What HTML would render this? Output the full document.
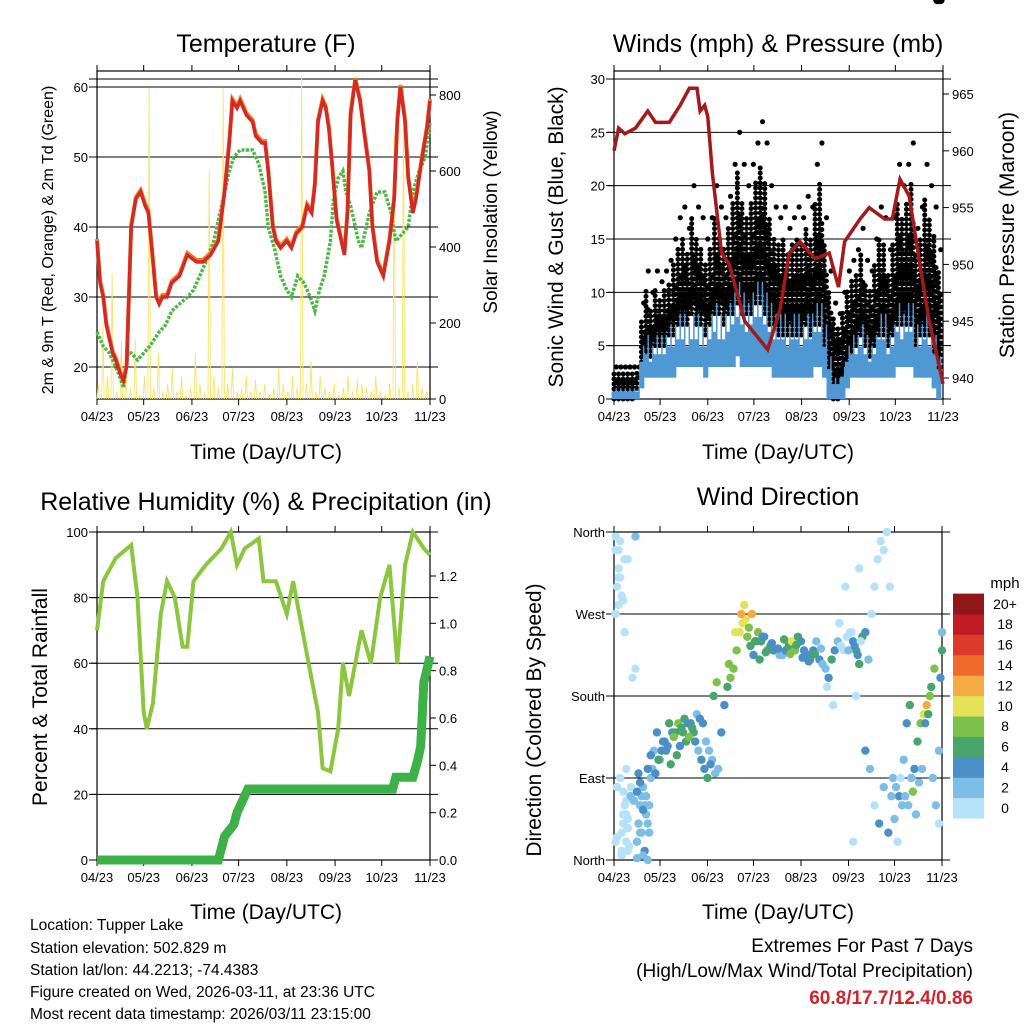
<!DOCTYPE html>
<html><head><meta charset="utf-8"><style>
html,body{margin:0;padding:0;background:#fff}
svg{display:block;font-family:"Liberation Sans",sans-serif}
</style></head><body>
<svg id="c" width="1024" height="1024" viewBox="0 0 1024 1024">
<text x="266" y="52" font-size="25" text-anchor="middle">Temperature (F)</text>
<text x="778" y="52" font-size="25" text-anchor="middle">Winds (mph) &amp; Pressure (mb)</text>
<text x="266" y="510" font-size="25" text-anchor="middle">Relative Humidity (%) &amp; Precipitation (in)</text>
<text x="778" y="505" font-size="25" text-anchor="middle">Wind Direction</text>
<g font-size="21" text-anchor="middle">
<text x="266" y="459">Time (Day/UTC)</text>
<text x="778" y="459">Time (Day/UTC)</text>
<text x="266" y="919">Time (Day/UTC)</text>
<text x="778" y="919">Time (Day/UTC)</text>
</g>
<text transform="translate(53,240) rotate(-90)" font-size="16" text-anchor="middle">2m &amp; 9m T (Red, Orange) &amp; 2m Td (Green)</text>
<text transform="translate(497,212) rotate(-90)" font-size="19" text-anchor="middle">Solar Insolation (Yellow)</text>
<text transform="translate(563,237) rotate(-90)" font-size="21" text-anchor="middle">Sonic Wind &amp; Gust (Blue, Black)</text>
<text transform="translate(1014,235) rotate(-90)" font-size="21" text-anchor="middle">Station Pressure (Maroon)</text>
<text transform="translate(47,697) rotate(-90)" font-size="21" text-anchor="middle">Percent &amp; Total Rainfall</text>
<text transform="translate(541,720) rotate(-90)" font-size="21" text-anchor="middle">Direction (Colored By Speed)</text>
<g font-size="15.5">
<text x="30" y="930">Location: Tupper Lake</text>
<text x="30" y="953">Station elevation: 502.829 m</text>
<text x="30" y="975">Station lat/lon: 44.2213; -74.4383</text>
<text x="30" y="997">Figure created on Wed, 2026-03-11, at 23:36 UTC</text>
<text x="30" y="1019">Most recent data timestamp: 2026/03/11 23:15:00</text>
</g>
<g font-size="19" text-anchor="end">
<text x="973" y="952">Extremes For Past 7 Days</text>
<text x="973" y="977">(High/Low/Max Wind/Total Precipitation)</text>
<text x="973" y="1004" fill="#d0242b" font-weight="bold">60.8/17.7/12.4/0.86</text>
</g>
<text x="1005" y="588" font-size="15" text-anchor="middle">mph</text>
</svg>
<script>
// ---- data ----
const xTickLabels=["04/23","05/23","06/23","07/23","08/23","09/23","10/23","11/23"];
const xTickDays=[0,30,61,91,122,153,183,214];
const tempDays=[0,2,4,6,8,10,12,15,17,19,22,25,28,31,33,36,38,40,42,45,48,53,58,64,68,73,78,82,85,87,90,92,96,100,102,106,108,110,113,115,118,122,125,128,132,135,138,140,142,145,147,149,151,154,157,159,161,163,166,169,172,175,177,180,184,188,191,193,195,198,200,203,205,209,212,214];
const tempVals=[38,32,30,26,24,22,21,19,18,20,40,44,45,43,42,35,30,29,30,30,32,33,36,35,35,36,38,45,52,58,57,58,56,55,53,52,52,48,40,38,37,38,37,39,40,43,42,46,55,58,57,54,49,41,38,36,42,56,61,58,53,48,40,35,33,38,44,55,60,55,47,42,44,50,54,58];
const dewDays=[0,4,8,10,14,17,20,22,26,30,34,40,44,48,53,58,62,66,70,75,78,82,85,88,92,95,100,104,108,110,114,118,122,125,129,133,137,140,143,146,150,152,155,158,160,163,165,168,170,173,175,180,185,189,192,196,200,203,207,211,214];
const dewVals=[25,23,22,21,19,17,22,22,21,22,23,25,26,28,29,30,31,33,35,38,41,45,48,50,51,51,51,49,45,40,37,33,31,30,33,32,30,28,31,33,38,44,47,48,45,43,41,38,37,40,42,45,45,42,38,39,40,45,48,50,55];
const solarPeaks=[40,200,60,330,20,150,80,30,160,10,60,820,30,120,20,40,80,20,60,10,30,120,40,20,600,60,30,820,40,80,20,30,60,20,50,20,40,10,30,80,40,20,60,30,850,40,100,20,60,30,20,40,10,30,60,20,50,40,30,20,60,20,10,40,700,30,820,20,40,100,30,20];
const windGustHi=[3,3,3,3,3,3,9,12,10,12,11,12,13,15,17,18,16,20,18,17,15,17,20,18,17,19,22,25,22,20,22,24,26,24,20,18,17,18,16,17,18,17,19,18,22,24,17,12,9,8,10,12,13,14,16,13,12,15,18,17,14,17,22,20,22,24,16,18,22,20,18,14];
const windGustLo=[0,0,0,0,0,1,3,4,4,5,5,5,6,6,7,7,7,8,7,7,6,7,8,8,7,8,8,9,8,8,8,9,9,8,7,7,6,6,6,6,6,6,7,6,7,7,5,2,0,0,1,3,4,5,6,5,4,5,6,6,5,6,7,7,7,7,5,6,6,6,4,2];
const windMeanHi=[1,1,1,1,1,1,5,6,5,6,6,6,7,7,8,8,7,8,8,7,7,8,9,8,8,9,10,11,10,9,10,11,11,10,9,8,8,8,7,8,8,7,8,8,9,9,7,4,2,2,3,5,6,6,7,6,5,6,8,8,6,7,9,8,9,9,7,7,8,7,6,4];
const windMeanLo=[0,0,0,0,0,0,1,2,2,2,2,2,2,2,3,3,3,3,3,3,2,3,3,3,3,3,3,4,3,3,3,3,3,3,3,2,2,2,2,2,2,2,2,2,3,3,2,0,0,0,0,1,2,2,2,2,2,2,2,2,2,2,3,3,3,3,2,2,2,2,1,0];
const pressDays=[0,3,7,14,22,27,36,43,49,54,56,59,61,64,70,75,85,100,108,114,121,131,140,146,150,160,166,176,181,186,192,199,205,210,214];
const pressVals=[960,962,961.5,962,963.5,962.5,962.5,964,965.5,965.5,963.5,964,963,958,951,950,945,942.5,946,951,952,950.5,951,948,952,954,955,954,954,957.5,956,950,945,942,939.5];
const rhDays=[0,4,12,22,26,30,32,36,41,45,50,55,58,62,70,80,86,90,95,104,107,115,122,126,132,136,142,145,150,155,158,162,170,176,182,188,193,198,203,210,214];
const rhVals=[70,85,92,96,80,45,40,48,75,85,80,65,65,85,90,95,100,90,95,98,85,85,75,85,70,60,45,28,27,40,60,50,70,60,80,90,60,90,100,95,93];
const precipDays=[0,78,80,82,88,90,97,190,192,203,206,208,210,214];
const precipVals=[0,0,0.05,0.1,0.15,0.2,0.3,0.3,0.35,0.35,0.42,0.48,0.75,0.86];
const dirDays=[1,2,3,4,5,6,7,8,9,10,2,4,6,8,11,1,3,5,7,9,12,14,14,15,16,17,18,19,20,21,22,23,24,25,18,20,22,26,28,30,32,34,36,38,40,42,44,46,48,50,52,54,56,58,60,62,64,66,68,70,72,74,76,78,80,82,84,86,88,90,92,94,96,98,100,102,104,106,108,110,112,114,116,118,120,122,124,126,128,130,132,134,136,138,140,142,144,146,148,150,152,154,156,158,160,162,164,166,168,170,172,174,176,178,180,182,184,186,188,190,192,194,196,198,200,202,204,206,208,210,212,213,214,214,212,156,158,160,
1,2,3,5,6,8,9,10,1,3,4,6,7,9,2,5,8,11,13,15,16,17,19,21,23,15,17,19,22,24,27,29,31,33,35,37,39,41,43,45,47,49,51,53,55,57,59,61,63,65,67,75,79,83,85,87,89,91,93,95,97,99,103,107,111,115,119,123,127,131,135,139,143,147,151,153,155,157,159,161,164,167,170,173,176,179,181,183,185,187,189,191,193,195,197,199,201,203,205,207,209,211,213];
const dirDegs=[340,300,320,350,30,50,60,20,10,70,80,90,40,100,80,270,310,290,250,330,200,210,355,20,40,60,70,80,60,50,40,30,90,100,30,10,0,120,140,110,130,120,150,140,140,150,145,155,150,150,140,160,155,150,130,120,110,95,100,140,170,190,200,210,230,250,260,265,255,270,240,250,240,245,230,235,230,230,225,225,230,235,240,230,245,240,230,225,220,230,240,220,215,210,200,220,230,240,235,230,245,250,240,230,215,245,250,220,270,300,330,350,340,360,300,90,80,70,60,70,60,90,100,130,150,160,170,180,90,60,120,200,230,250,40,20,180,320,
20,80,280,5,75,65,45,15,355,340,310,285,330,35,25,10,50,70,65,75,95,85,55,70,60,2,30,5,100,115,95,110,120,130,125,105,135,115,125,140,130,135,145,130,120,110,100,90,105,180,195,215,250,270,280,245,235,225,240,220,245,228,238,232,242,226,236,222,218,226,232,190,170,260,300,230,250,235,225,240,120,100,60,40,80,30,70,45,20,90,110,150,170,75,50,85,100,150,160,190,210];
const dirSpds=[1,1,1,1,1,1,1,1,1,1,1,1,1,1,1,1,1,1,1,1,1,1,3,3,3,3,3,3,3,3,3,3,3,3,3,4,3,3,5,3,5,5,7,5,7,8,7,7,5,5,7,3,5,4,3,3,3,3,3,5,5,7,8,8,9,10,11,10,9,12,7,9,6,5,7,7,5,7,3,3,5,7,10,9,7,5,5,5,6,5,3,5,3,3,5,7,5,3,1,1,1,1,5,7,6,7,5,3,1,1,1,1,1,1,1,3,3,5,3,3,3,3,5,7,9,10,12,9,3,3,3,5,7,3,1,1,1,1,
1,1,1,1,1,1,1,1,1,1,1,1,1,1,1,1,1,3,3,5,5,5,5,3,3,3,3,3,5,5,5,7,5,5,5,7,9,7,5,7,6,8,7,5,3,5,5,7,5,7,8,9,10,12,11,9,7,5,6,7,5,7,5,5,6,9,7,5,5,7,3,1,1,1,1,3,1,5,5,1,5,3,1,5,3,5,3,3,1,1,3,5,7,9,3,3,3,5,7,7,8];
const cbarLabels=["0","2","4","6","8","10","12","14","16","18","20+"];
const cbarColors=["#b5e2f8","#7dbde6","#4a8fc8","#48a56c","#7cc24a","#e5e158","#f6aa44","#f06a2c","#de3a2c","#c01c24","#901619"];

// ---- helpers ----
const svg=document.getElementById('c');const NS="http://www.w3.org/2000/svg";
function mk(tag,attrs,parent){const e=document.createElementNS(NS,tag);for(const k in attrs)e.setAttribute(k,attrs[k]);(parent||svg).appendChild(e);return e;}
function lin(d0,d1,r0,r1){return v=>r0+(v-d0)*(r1-r0)/(d1-d0);}
function axesFrame(x0,x1,y0,y1,name){
  const g=mk('g',{});
  
  
  mk('rect',{x:x0,y:y0,width:x1-x0,height:y1-y0,fill:'none',stroke:'#000','stroke-width':1.2},g);
  const xs=lin(0,214,x0,x1);
  xTickDays.forEach((d,i)=>{const x=xs(d);
    mk('line',{x1:x,x2:x,y1:y1,y2:y1+6,stroke:'#000'},g);
    mk('line',{x1:x,x2:x,y1:y0,y2:y0-6,stroke:'#000'},g);
    const t=mk('text',{x:x,y:y1+22,'font-size':13,'text-anchor':'middle'},g);t.textContent=xTickLabels[i];});
  return g;
}
function yTicks(g,vals,labels,scale,x,side,grid,x0,x1){
  vals.forEach((v,i)=>{const y=scale(v);
    if(grid)mk('line',{x1:x0-8,x2:x1+8,y1:y,y2:y,stroke:'#000','stroke-width':1},g);
    mk('line',{x1:x,x2:x+(side<0?-6:6),y1:y,y2:y,stroke:'#000'},g);
    const t=mk('text',{x:x+(side<0?-9:9),y:y+5,'font-size':13,'text-anchor':side<0?'end':'start'},g);t.textContent=labels[i];});
}
function pathFrom(xa,ya,xs,ys){return xa.map((d,i)=>(i?'L':'M')+xs(d).toFixed(1)+','+ys(ya[i]).toFixed(1)).join('');}

// ---- Panel 1: temperature ----
(function(){
  const x0=97,x1=430,y0=71,y1=399;
  const g=axesFrame(x0,x1,y0,y1,'temperature');
  const xs=lin(0,214,x0,x1),ys=lin(20,60,367,87),ss=lin(0,800,399,95);
  yTicks(g,[20,30,40,50,60],['20','30','40','50','60'],ys,x0,-1,true,x0,x1);
  mk('line',{x1:x0-8,x2:x1+8,y1:79,y2:79,stroke:'#000'},g);
  yTicks(g,[0,200,400,600,800],['0','200','400','600','800'],ss,x1,1,false);
  let d='';solarPeaks.forEach((p,i)=>{const dd=i*214/solarPeaks.length;d+=`M${xs(dd).toFixed(1)},${ss(0)}L${xs(dd+0.8).toFixed(1)},${ss(p).toFixed(1)}L${xs(dd+1.6).toFixed(1)},${ss(0)}`;});
  const sol=mk('path',{d:d,fill:'none',stroke:'#f9e36a','stroke-width':0.9},g);
  
  
  const dp=mk('path',{d:pathFrom(dewDays,dewVals,xs,ys),fill:'none',stroke:'#4db848','stroke-width':3.5,'stroke-dasharray':'3 1.5'},g);
  
  
  const or=mk('path',{d:pathFrom(tempDays,tempVals,xs,v=>ys(v)-2),fill:'none',stroke:'#f07f2a','stroke-width':4},g);
  
  
  const rd=mk('path',{d:pathFrom(tempDays,tempVals,xs,ys),fill:'none',stroke:'#d42a26','stroke-width':3.5},g);
  
  
})();

// ---- Panel 2: winds ----
(function(){
  const x0=614,x1=943,y0=71,y1=399;
  const g=axesFrame(x0,x1,y0,y1,'winds');
  const xs=lin(0,214,x0,x1),ys=lin(0,30,399,79),ps=lin(940,965,378,94);
  yTicks(g,[0,5,10,15,20,25,30],['0','5','10','15','20','25','30'],ys,x0,-1,true,x0,x1);
  yTicks(g,[940,945,950,955,960,965],['940','945','950','955','960','965'],ps,x1,1,false);
  const n=windGustHi.length;
  windGustHi.forEach((v,i)=>{const x=xs(i*214/n);
    const b=mk('line',{x1:x,x2:x,y1:ys(windGustLo[i]),y2:ys(v*0.85),stroke:'#000','stroke-width':5,'stroke-linecap':'round','stroke-dasharray':'0 5'},g);
    
    
    const b2=mk('line',{x1:x+2.2,x2:x+2.2,y1:ys(windGustLo[i]+1),y2:ys(v*0.7),stroke:'#000','stroke-width':5,'stroke-linecap':'round','stroke-dasharray':'0 6'},g);
    
    
    const dt=mk('circle',{cx:xs(i*214/n+1.5),cy:ys(v),r:2.6,fill:'#000'},g);
    
    
  });
  windMeanHi.forEach((v,i)=>{const x=xs(i*214/n);
    const b=mk('line',{x1:x,x2:x,y1:ys(windMeanLo[i]),y2:ys(v*0.7),stroke:'#4f98d4','stroke-width':4.5},g);
    
    
    const b2=mk('line',{x1:x+2.2,x2:x+2.2,y1:ys(windMeanLo[i]),y2:ys(v),stroke:'#4f98d4','stroke-width':1.5},g);
    
    
  });
  const p=mk('path',{d:pathFrom(pressDays,pressVals,xs,ps),fill:'none',stroke:'#a3191c','stroke-width':3.5},g);
  
  
})();

// ---- Panel 3: RH & precip ----
(function(){
  const x0=97,x1=430,y0=532,y1=860;
  const g=axesFrame(x0,x1,y0,y1,'humidity');
  const xs=lin(0,214,x0,x1),ys=lin(0,100,860,532),pr=lin(0,1.2,860,576);
  yTicks(g,[0,20,40,60,80,100],['0','20','40','60','80','100'],ys,x0,-1,true,x0,x1);
  yTicks(g,[0,0.2,0.4,0.6,0.8,1.0,1.2],['0.0','0.2','0.4','0.6','0.8','1.0','1.2'],pr,x1,1,false);
  const rh=mk('path',{d:pathFrom(rhDays,rhVals,xs,ys),fill:'none',stroke:'#8cc63f','stroke-width':4},g);
  
  
  const pc=mk('path',{d:pathFrom(precipDays,precipVals,xs,pr),fill:'none',stroke:'#3db048','stroke-width':9},g);
  
  
})();

// ---- Panel 4: wind direction ----
(function(){
  const x0=614,x1=942,y0=532,y1=860;
  const g=axesFrame(x0,x1,y0,y1,'wind-direction');
  const xs=lin(0,214,x0,x1),ys=lin(0,360,860,532);
  yTicks(g,[0,90,180,270,360],['North','East','South','West','North'],ys,x0,-1,true,x0,x1);
  dirDays.forEach((d,i)=>{
    const c=cbarColors[Math.min(10,Math.floor(dirSpds[i]/2))];
    const pt=mk('circle',{cx:xs(d),cy:ys(dirDegs[i]),r:4.2,fill:c},g);
    
    
  });
  const cb=mk('g',{});
  
  
  const h=20.4;
  cbarColors.forEach((c,i)=>{const y=818-(i+1)*h;
    mk('rect',{x:953,y:y,width:31,height:h+0.5,fill:c},cb);
    const t=mk('text',{x:1005,y:y+h/2+5,'font-size':14,'text-anchor':'middle'},cb);t.textContent=cbarLabels[i];});
})();
</script>
</body></html>
